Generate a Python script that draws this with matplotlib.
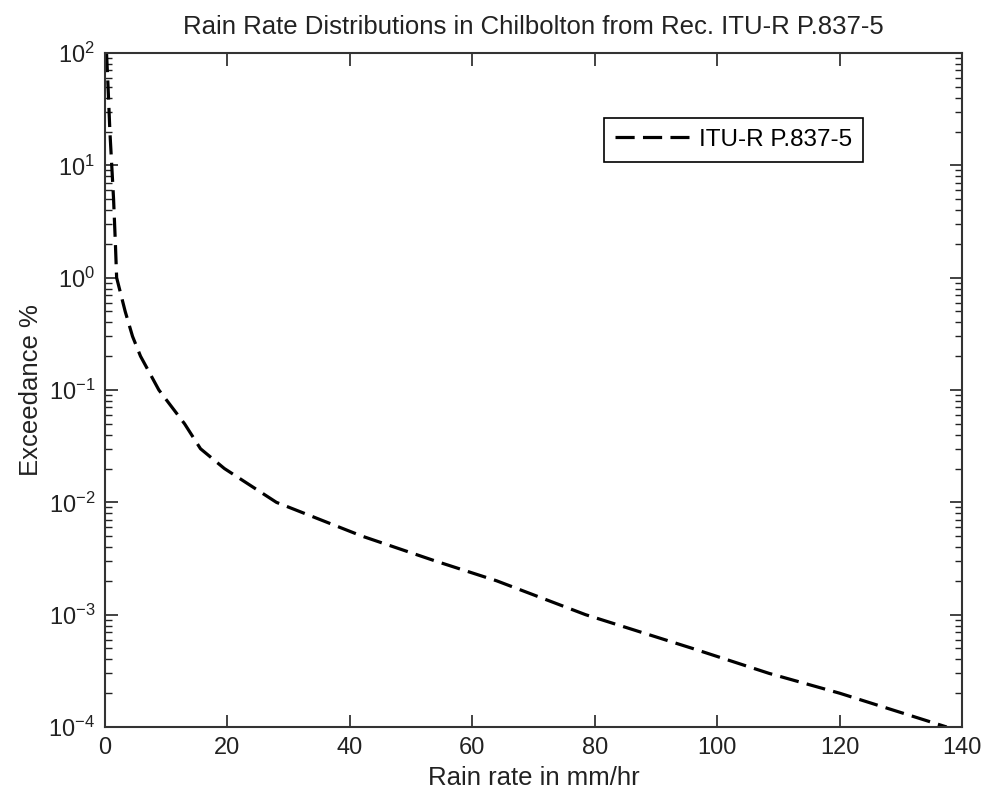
import matplotlib
matplotlib.use("Agg")
import matplotlib.pyplot as plt
from matplotlib.ticker import LogLocator, NullFormatter, FixedLocator

plt.rcParams["font.family"] = ["Liberation Sans", "DejaVu Sans"]
plt.rcParams["mathtext.fontset"] = "custom"
plt.rcParams["mathtext.rm"] = "Liberation Sans"

# exceedance levels (%) and the rain rate (mm/hr)
exceedance = [100, 50, 20, 10, 5, 2, 1, 0.5, 0.3, 0.2, 0.1, 0.05, 0.03, 0.02,
              0.01, 0.005, 0.003, 0.002, 0.001, 0.0005, 0.0003, 0.0002, 0.0001]
rain_rate = [0.25, 0.5, 0.8, 1.1, 1.4, 1.7, 1.9, 3.3, 4.5, 5.8, 8.8, 13.0, 15.6, 19.5,
             28.0, 42.0, 54.0, 64.0, 78.5, 96.0, 108.5, 120.0, 137.5]
x_ticks = [0, 20, 40, 60, 80, 100, 120, 140]

fs_tick = 17
fs_lab = 18.5
txt = "#222222"

fig = plt.figure(figsize=(9.86, 7.95), dpi=100)
ax = fig.add_axes([105 / 986, 1 - 727 / 795, 857 / 986, 674 / 795])

line, = ax.semilogy(rain_rate, exceedance, color="black", lw=2.3, label="ITU-R P.837-5")
line.set_dashes((6, 2.6))

ax.set_xlim(0, 140)
ax.set_ylim(1e-4, 1e2)
ax.xaxis.set_major_locator(FixedLocator(x_ticks))
ax.yaxis.set_major_locator(LogLocator(base=10, numticks=10))
ax.yaxis.set_minor_locator(LogLocator(base=10, subs=range(2, 10), numticks=10))
ax.yaxis.set_minor_formatter(NullFormatter())

ax.tick_params(which="both", direction="in", top=True, right=True, colors=txt,
               labelcolor=txt, labelsize=fs_tick)
ax.tick_params(which="major", length=9, width=1.2, pad=7)
ax.tick_params(which="minor", length=5, width=1.0)
for s in ax.spines.values():
    s.set_linewidth(1.5)
    s.set_color("#333333")

ax.set_title("Rain Rate Distributions in Chilbolton from Rec. ITU-R P.837-5",
             fontsize=fs_lab, color=txt, pad=14)
ax.set_xlabel("Rain rate in mm/hr", fontsize=fs_lab, color=txt, labelpad=5)
ax.set_ylabel("Exceedance %", fontsize=fs_lab, color=txt, labelpad=4)

leg = ax.legend(loc="upper right", bbox_to_anchor=(0.884, 0.904), fontsize=17.5,
                fancybox=False, framealpha=1, edgecolor="black", handlelength=3.05,
                handletextpad=0.4, borderpad=0.45, borderaxespad=0)
leg.get_frame().set_linewidth(1.2)

fig.savefig("out.png", dpi=100)
